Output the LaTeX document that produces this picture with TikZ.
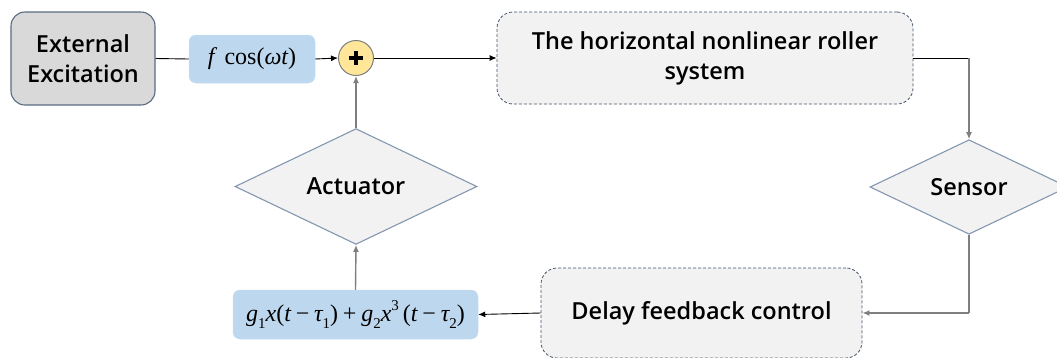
\documentclass[tikz,border=0pt]{standalone}
\usepackage{fontspec}
% a medium-weight sans for the block labels, from whichever family is present
\IfFontExistsTF{Open Sans Semibold}{\setmainfont{Open Sans Semibold}}{%
 \IfFontExistsTF{Open Sans SemiBold}{\setmainfont{Open Sans SemiBold}}{%
  \IfFontExistsTF{Fira Sans Medium}{\setmainfont{Fira Sans Medium}}{%
   \IfFontExistsTF{Noto Sans Medium}{\setmainfont{Noto Sans Medium}}{%
    \IfFontExistsTF{Lato Semibold}{\setmainfont{Lato Semibold}}{%
     \setmainfont{Open Sans}[FakeBold=0.5]}}}}}
\newfontfamily\tms{Liberation Serif}
\usetikzlibrary{shapes.geometric,arrows.meta}

\definecolor{boxgray}{HTML}{D9D9D9}
\definecolor{boxedge}{HTML}{5B6B82}
\definecolor{mathblue}{HTML}{BDD7EE}
\definecolor{sumyellow}{HTML}{FFE699}
\definecolor{paleback}{HTML}{F2F2F2}
\definecolor{dashedge}{HTML}{44546A}
\definecolor{diamedge}{HTML}{8497B0}
\definecolor{wire}{HTML}{7F7F7F}

% italic and upright Times-like pieces for the formulas
\newcommand{\vi}[1]{{\itshape #1}}
\newcommand{\sbs}[1]{\raisebox{-0.28em}{\fontsize{15}{15}\selectfont #1}}
\newcommand{\sps}[1]{\raisebox{0.45em}{\fontsize{15}{15}\selectfont #1}}
\newcommand{\binop}[1]{\hspace{0.2em}#1\hspace{0.2em}}

\tikzset{
  lbl/.style={font=\fontsize{23.5}{30}\selectfont, align=center, text=black},
  sourcebox/.style={lbl, draw=boxedge, line width=1.1pt, fill=boxgray,
    rounded corners=14pt, inner sep=0pt},
  mathbox/.style={fill=mathblue, draw=mathblue!80!white, line width=0.5pt,
    rounded corners=7pt, inner sep=0pt, font=\tms\fontsize{24}{26}\selectfont},
  blockbox/.style={lbl, draw=dashedge, dashed, dash pattern=on 3pt off 2pt,
    line width=0.8pt, fill=paleback, rounded corners=16pt, inner sep=0pt},
  decision/.style={lbl, diamond, draw=diamedge, line width=1.1pt, fill=paleback,
    inner sep=0pt},
  sumnode/.style={circle, draw=wire, line width=1pt, fill=sumyellow,
    minimum size=35pt, inner sep=0pt},
  tip/.style={-{Latex[length=7pt,width=6pt]}},
  thin wire/.style={black, line width=0.9pt},
  thick wire/.style={wire, line width=1.4pt},
}

\begin{document}
\begin{tikzpicture}[x=1pt, y=-1pt]
  \useasboundingbox (0,0) rectangle (1057,357);

  % blocks
  \node[sourcebox, minimum width=144pt, minimum height=93pt] (ext) at (83,58.5)
    {External\\Excitation};
  \node[mathbox, minimum width=126pt, minimum height=48pt] (force) at (252,59)
    {\vi{f}\, cos(\vi{ωt})};
  \node[sumnode] (sum) at (356,58) {};
  \node[blockbox, minimum width=416pt, minimum height=92pt] (plant) at (705,58)
    {The horizontal nonlinear roller\\system};
  \node[decision, minimum width=198pt, minimum height=84pt] (sensor) at (969,187)
    {Sensor};
  \node[blockbox, minimum width=321pt, minimum height=90pt] (delay) at (701.5,313)
    {Delay feedback control};
  \node[mathbox, minimum width=245pt, minimum height=49pt] (law) at (355.5,314.5)
    {\vi{g}\sbs{1}\vi{x}(\vi{t}\binop{−}\vi{τ}\sbs{1})\binop{+}\vi{g}\sbs{2}\vi{x}\sps{3}\,(\vi{t}\binop{−}\vi{τ}\sbs{2})};
  \node[decision, minimum width=242pt, minimum height=85pt] (act) at (356,186.5)
    {Actuator};

  % plus sign of the summing junction
  \draw[line width=4pt] ([xshift=-7pt]sum.center) -- ([xshift=7pt]sum.center);
  \draw[line width=4pt] ([yshift=-7pt]sum.center) -- ([yshift=7pt]sum.center);

  % bends of the loop
  \coordinate (c1) at (969,58);
  \coordinate (c2) at (969,313);

  % connectors
  \draw[thin wire] (ext.east) -- (force.west);
  \draw[thin wire, tip] (force.east) -- (sum.west);
  \draw[thin wire, tip] (sum.east) -- (plant.west);
  \draw[thin wire] (plant.east |- c1) -- (c1);
  \draw[thick wire, tip] (c1) -- (sensor.north);
  \draw[thick wire] (sensor.south) -- (c2);
  \draw[thick wire, tip] (c2) -- (delay.east);
  \draw[thin wire, tip] (delay.west) -- (law.east);
  \draw[thick wire, tip] (law.north) -- (act.south);
  \draw[thick wire, tip] (act.north) -- (sum.south);
\end{tikzpicture}
\end{document}
